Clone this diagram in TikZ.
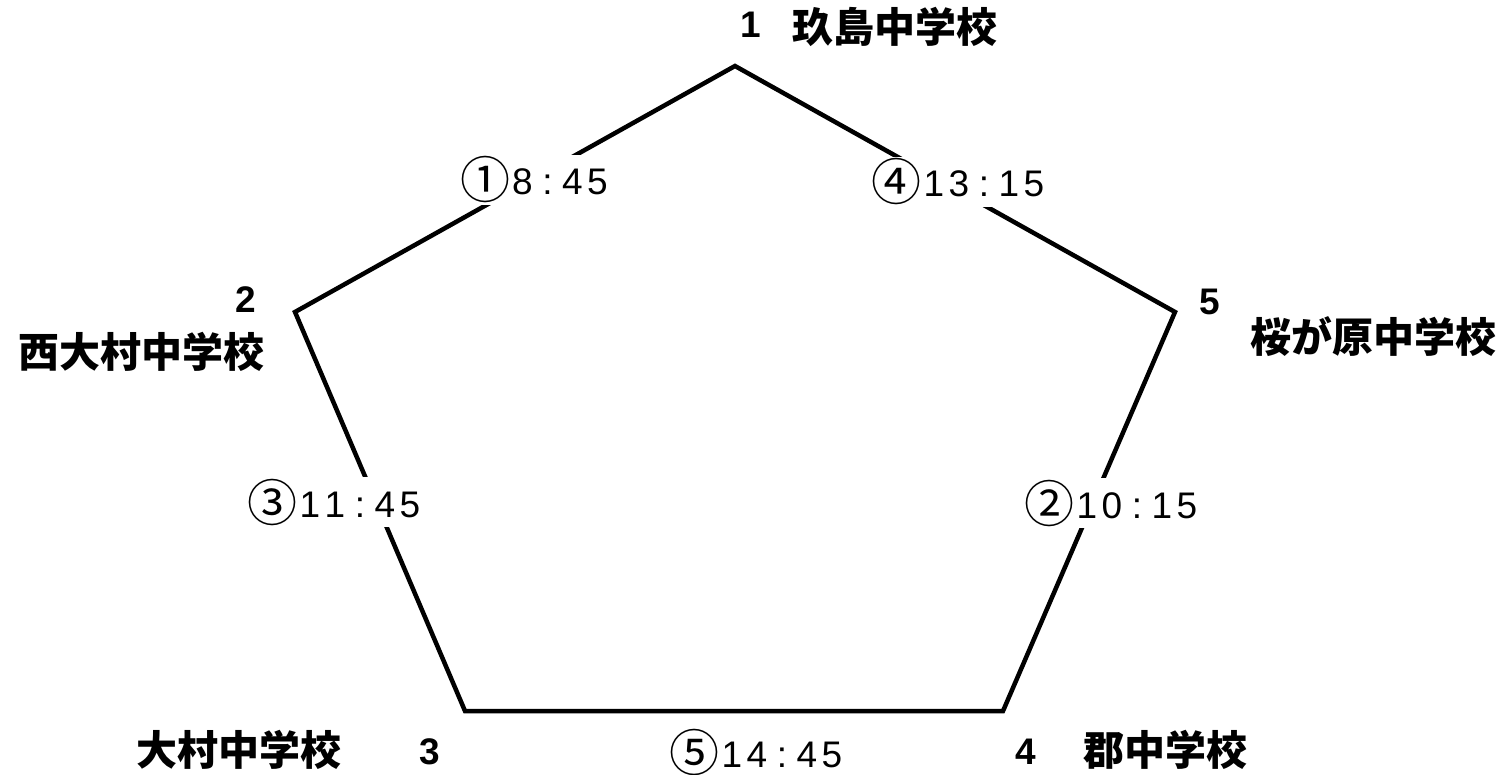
\documentclass[tikz,border=0pt]{standalone}
\usepackage{fontspec}
\setmainfont{Noto Sans CJK JP}
\newfontfamily\numfont{Liberation Sans}
\usepackage{tikz}
\usetikzlibrary{calc}
\newcommand{\tc}[1]{\makebox[25pt]{#1}}
\newcommand{\circnum}[1]{\raisebox{-4pt}{\rmfamily\fontsize{50}{50}\selectfont#1}}

\begin{document}
\begin{tikzpicture}[
x=1pt,y=-1pt,
Pentagon/.style={draw=black,line width=4.5pt,line join=miter},
TimeLabel/.style={fill=white,inner sep=2pt,font=\fontsize{37}{37}\selectfont\numfont},
SchoolName/.style={inner sep=0pt,font=\fontsize{41}{41}\selectfont\bfseries},
SchoolNum/.style={inner sep=0pt,font=\fontsize{37}{37}\selectfont\numfont\bfseries}
]
\useasboundingbox (0,0) rectangle (1507,775);

% corners of the pentagon
\coordinate (A) at (735,66);
\coordinate (B) at (295,312);
\coordinate (C) at (465,711);
\coordinate (D) at (1003,711);
\coordinate (E) at (1175,312);

\draw[Pentagon] (A)--(B)--(C)--(D)--(E)--cycle;

% times on the sides
\node[TimeLabel] (t1) at (535,180) {\circnum{①}\tc{8}\tc{:}\tc{4}\tc{5}};
\node[TimeLabel] (t2) at (1112,503) {\circnum{②}\tc{1}\tc{0}\tc{:}\tc{1}\tc{5}};
\node[TimeLabel] (t3) at (335,502) {\circnum{③}\tc{1}\tc{1}\tc{:}\tc{4}\tc{5}};
\node[TimeLabel] (t4) at (959,182) {\circnum{④}\tc{1}\tc{3}\tc{:}\tc{1}\tc{5}};
\node[TimeLabel] (t5) at (757,752) {\circnum{⑤}\tc{1}\tc{4}\tc{:}\tc{4}\tc{5}};

% schools
\node[SchoolNum] (n1) at (751,25) {1};
\node[SchoolName] (s1) at (895,27) {玖島中学校};
\node[SchoolNum] (n2) at (246,300) {2};
\node[SchoolName] (s2) at (141,352) {西大村中学校};
\node[SchoolNum] (n3) at (430,752) {3};
\node[SchoolName] (s3) at (239,750) {大村中学校};
\node[SchoolNum] (n4) at (1026,752) {4};
\node[SchoolName] (s4) at (1165,750) {郡中学校};
\node[SchoolNum] (n5) at (1210,302) {5};
\node[SchoolName] (s5) at (1373,337) {桜が原中学校};

\end{tikzpicture}
\end{document}
